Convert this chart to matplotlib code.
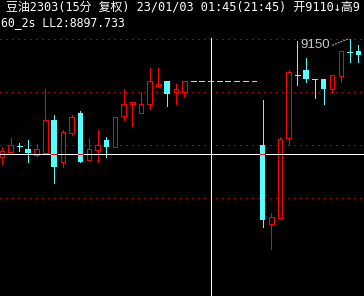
import matplotlib
matplotlib.use('Agg')
import matplotlib.pyplot as plt

# 豆油2303 15分钟 K线
opens  = [9039, 9043, 9049, 9046, 9041, 9042, 9074, 9034, 9061, 9080, 9036, 9045, 9055, 9048,
          9077, 9089, 9080, 9089, 9106, 9110, 9100, 9100,
          9110, 9110, 9110, 9110, 9110, 9110, 9110, 9110,
          9050, 8975, 8981, 9057, 9116, 9121, 9112, 9112, 9103, 9115, 9138, 9139, 9137]
highs  = [9048, 9057, 9052, 9055, 9051, 9103, 9078, 9064, 9078, 9082, 9057, 9064, 9058, 9076,
          9103, 9091, 9100, 9123, 9123, 9110, 9108, 9110,
          9110, 9110, 9110, 9110, 9110, 9110, 9110, 9110,
          9092, 8986, 9058, 9121, 9148, 9132, 9112, 9112, 9116, 9139, 9150, 9144, 9137]
lows   = [9032, 9043, 9044, 9034, 9039, 9042, 9014, 9029, 9059, 9034, 9036, 9034, 9039, 9048,
          9074, 9068, 9080, 9084, 9105, 9087, 9089, 9095,
          9110, 9110, 9110, 9110, 9110, 9110, 9110, 9110,
          8973, 8952, 8981, 9050, 9107, 9109, 9094, 9089, 9100, 9109, 9128, 9128, 9124]
closes = [9044, 9050, 9049, 9042, 9046, 9074, 9029, 9062, 9076, 9034, 9046, 9050, 9048, 9076,
          9089, 9091, 9089, 9110, 9108, 9098, 9103, 9110,
          9110, 9110, 9110, 9110, 9110, 9110, 9110, 9110,
          8979, 8982, 9056, 9119, 9116, 9112, 9112, 9103, 9116, 9139, 9138, 9135, 9124]

grid_levels = [9150, 9100, 9050, 9000]
cross_idx = 24
cross_price = 9041.5
title_line = '豆油2303(15分 复权) 23/01/03 01:45(21:45) 开9110↓高9'
info_line = '60_2s LL2:8897.733'

UP = '#FF0000'
DOWN = '#55FFFF'
PX = 0.72  # 1 pixel in points at dpi 100

plt.rcParams['lines.antialiased'] = False
plt.rcParams['patch.antialiased'] = False

fig = plt.figure(figsize=(3.64, 2.96), dpi=100, facecolor='black')
ax = fig.add_axes([0, 0, 1, 1])
ax.set_facecolor('black')
ax.set_xlim(-0.23, 41.66)
ax.set_ylim(8907.5, 9186.8)
ax.axis('off')

for g in grid_levels:
    ax.axhline(g, color='#A00000', lw=PX, linestyle=(0, (1.4, 4.6)), zorder=1)

bw = 0.52
for i in range(len(opens)):
    o, h, l, c = opens[i], highs[i], lows[i], closes[i]
    col = UP if c > o else DOWN
    ax.vlines(i, l, h, color=col, lw=PX, zorder=2)
    if c == o:
        ax.hlines(o, i - 0.28, i + 0.28, color=col, lw=PX, zorder=3)
    elif c > o:
        # 阳线: 空心
        ax.bar(i, c - o, bottom=o, width=bw, color='black', lw=0, zorder=3)
        ax.vlines([i - bw / 2, i + bw / 2], o, c, color=col, lw=PX, zorder=3.5)
        ax.hlines([o, c], i - bw / 2, i + bw / 2, color=col, lw=PX, zorder=3.5)
    else:
        ax.bar(i, o - c, bottom=c, width=bw + 0.1, color=col, lw=0, zorder=3)

# 十字光标
ax.axhline(cross_price, color='white', lw=PX, zorder=4)
ax.vlines(cross_idx, ax.get_ylim()[0], 9151, color='white', lw=PX, zorder=4)
for i in range(len(opens)):
    if closes[i] < opens[i] and closes[i] < cross_price < opens[i]:
        ax.hlines(cross_price, i - bw / 2 - 0.05, i + bw / 2 + 0.05, color=UP, lw=PX, zorder=5)

# 最高价标注
hi = max(highs)
hi_idx = highs.index(hi)
ax.plot([hi_idx - 2.0, hi_idx - 0.2], [hi - 6, hi], color='#BBBBBB', lw=PX, linestyle=(0, (2, 1)),
        zorder=4, antialiased=True)
ax.text(hi_idx - 5.7, hi - 6, str(hi), color='#C8C8C8', fontsize=9.5, family='Liberation Sans',
        va='center', ha='left', zorder=4)

fnt = ['DejaVu Sans Mono', 'Noto Sans CJK SC']
fig.text(6 / 364, 1 - 7.5 / 296, title_line, color='white', fontsize=8.6,
         family=fnt, va='center', ha='left')
fig.text(1 / 364, 1 - 23 / 296, info_line, color='white', fontsize=8.3,
         family=fnt, va='center', ha='left')

fig.savefig('out.png', dpi=100, facecolor='black')
